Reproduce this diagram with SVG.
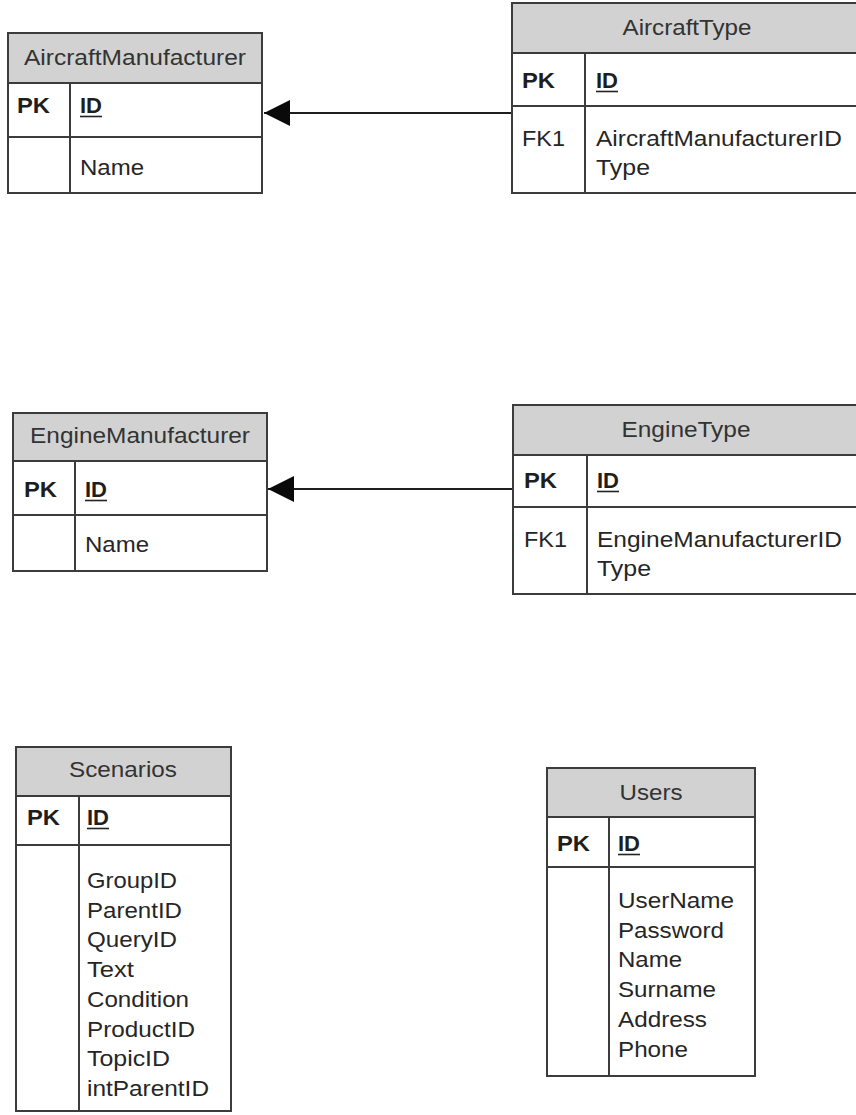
<svg xmlns="http://www.w3.org/2000/svg" width="856" height="1115" viewBox="0 0 856 1115">
<style>
  .bg{fill:#ffffff}
  .box{fill:#ffffff;stroke:#3c3c3c;stroke-width:2}
  .hdr{fill:#d2d2d2;stroke:#3c3c3c;stroke-width:2}
  .ln{stroke:#3c3c3c;stroke-width:2;fill:none}
  .ul{stroke:#222222;stroke-width:1.6;fill:none}
  text{font-family:"Liberation Sans",Arial,sans-serif;font-size:22px;fill:#262626}
  .h{text-anchor:middle;fill:#333333}
  .b{font-weight:bold;fill:#1e1e1e}
  .conn{stroke:#1e1e1e;stroke-width:2.2;fill:none}
</style>
<defs>
  <marker id="arrow" markerUnits="userSpaceOnUse" markerWidth="26" markerHeight="26" viewBox="0 0 24 24" refX="24" refY="12" orient="auto">
    <path d="M0,0 L24,12 L0,24 z" fill="#0a0a0a"/>
  </marker>
</defs>
<rect class="bg" x="0" y="0" width="856" height="1115"/>

<g id="connectors">
  <line class="conn" x1="512" y1="113" x2="264" y2="113" marker-end="url(#arrow)"/>
  <line class="conn" x1="513" y1="489" x2="268" y2="489" marker-end="url(#arrow)"/>
</g>

<g id="AircraftManufacturer">
  <rect class="box" x="8" y="33" width="254" height="160"/>
  <rect class="hdr" x="8" y="33" width="254" height="50"/>
  <line class="ln" x1="8" y1="137" x2="262" y2="137"/>
  <line class="ln" x1="70" y1="83" x2="70" y2="193"/>
  <text class="h" x="135" y="65" textLength="222" lengthAdjust="spacingAndGlyphs">AircraftManufacturer</text>
  <text class="b" x="17" y="113" textLength="33" lengthAdjust="spacingAndGlyphs">PK</text>
  <text class="b" x="80" y="113" textLength="22" lengthAdjust="spacingAndGlyphs">ID</text>
  <line class="ul" x1="80" y1="116.5" x2="102" y2="116.5"/>
  <text x="80" y="175" textLength="64" lengthAdjust="spacingAndGlyphs">Name</text>
</g>

<g id="AircraftType">
  <rect class="box" x="512" y="3" width="354" height="190"/>
  <rect class="hdr" x="512" y="3" width="354" height="50"/>
  <line class="ln" x1="512" y1="106" x2="866" y2="106"/>
  <line class="ln" x1="585" y1="53" x2="585" y2="193"/>
  <text class="h" x="687" y="35" textLength="129" lengthAdjust="spacingAndGlyphs">AircraftType</text>
  <text class="b" x="522" y="88" textLength="33" lengthAdjust="spacingAndGlyphs">PK</text>
  <text class="b" x="596" y="88" textLength="22" lengthAdjust="spacingAndGlyphs">ID</text>
  <line class="ul" x1="596" y1="91.5" x2="618" y2="91.5"/>
  <text x="522" y="146" textLength="43" lengthAdjust="spacingAndGlyphs">FK1</text>
  <text x="596" y="146" textLength="246" lengthAdjust="spacingAndGlyphs">AircraftManufacturerID</text>
  <text x="596" y="175" textLength="54" lengthAdjust="spacingAndGlyphs">Type</text>
</g>

<g id="EngineManufacturer">
  <rect class="box" x="13" y="413" width="254" height="158"/>
  <rect class="hdr" x="13" y="413" width="254" height="48"/>
  <line class="ln" x1="13" y1="515" x2="267" y2="515"/>
  <line class="ln" x1="75" y1="461" x2="75" y2="571"/>
  <text class="h" x="140" y="443" textLength="220" lengthAdjust="spacingAndGlyphs">EngineManufacturer</text>
  <text class="b" x="24" y="497" textLength="33" lengthAdjust="spacingAndGlyphs">PK</text>
  <text class="b" x="85" y="497" textLength="22" lengthAdjust="spacingAndGlyphs">ID</text>
  <line class="ul" x1="85" y1="500.5" x2="107" y2="500.5"/>
  <text x="85" y="552" textLength="64" lengthAdjust="spacingAndGlyphs">Name</text>
</g>

<g id="EngineType">
  <rect class="box" x="513" y="405" width="353" height="189"/>
  <rect class="hdr" x="513" y="405" width="353" height="50"/>
  <line class="ln" x1="513" y1="507" x2="866" y2="507"/>
  <line class="ln" x1="587" y1="455" x2="587" y2="594"/>
  <text class="h" x="686" y="437" textLength="129" lengthAdjust="spacingAndGlyphs">EngineType</text>
  <text class="b" x="524" y="488" textLength="33" lengthAdjust="spacingAndGlyphs">PK</text>
  <text class="b" x="597" y="488" textLength="22" lengthAdjust="spacingAndGlyphs">ID</text>
  <line class="ul" x1="597" y1="491.5" x2="619" y2="491.5"/>
  <text x="524" y="547" textLength="43" lengthAdjust="spacingAndGlyphs">FK1</text>
  <text x="597" y="547" textLength="245" lengthAdjust="spacingAndGlyphs">EngineManufacturerID</text>
  <text x="597" y="576" textLength="54" lengthAdjust="spacingAndGlyphs">Type</text>
</g>

<g id="Scenarios">
  <rect class="box" x="16" y="747" width="215" height="364"/>
  <rect class="hdr" x="16" y="747" width="215" height="49"/>
  <line class="ln" x1="16" y1="845" x2="231" y2="845"/>
  <line class="ln" x1="79" y1="796" x2="79" y2="1111"/>
  <text class="h" x="123" y="777" textLength="108" lengthAdjust="spacingAndGlyphs">Scenarios</text>
  <text class="b" x="27" y="825" textLength="33" lengthAdjust="spacingAndGlyphs">PK</text>
  <text class="b" x="87" y="825" textLength="22" lengthAdjust="spacingAndGlyphs">ID</text>
  <line class="ul" x1="87" y1="828.5" x2="109" y2="828.5"/>
  <text x="87" y="888" textLength="90" lengthAdjust="spacingAndGlyphs">GroupID</text>
  <text x="87" y="917.7" textLength="95" lengthAdjust="spacingAndGlyphs">ParentID</text>
  <text x="87" y="947.4" textLength="90" lengthAdjust="spacingAndGlyphs">QueryID</text>
  <text x="87" y="977.1" textLength="47" lengthAdjust="spacingAndGlyphs">Text</text>
  <text x="87" y="1006.8" textLength="102" lengthAdjust="spacingAndGlyphs">Condition</text>
  <text x="87" y="1036.5" textLength="108" lengthAdjust="spacingAndGlyphs">ProductID</text>
  <text x="87" y="1066.2" textLength="83" lengthAdjust="spacingAndGlyphs">TopicID</text>
  <text x="87" y="1095.9" textLength="122" lengthAdjust="spacingAndGlyphs">intParentID</text>
</g>

<g id="Users">
  <rect class="box" x="547" y="768" width="208" height="308"/>
  <rect class="hdr" x="547" y="768" width="208" height="49"/>
  <line class="ln" x1="547" y1="867" x2="755" y2="867"/>
  <line class="ln" x1="609" y1="817" x2="609" y2="1076"/>
  <text class="h" x="651" y="800" textLength="63" lengthAdjust="spacingAndGlyphs">Users</text>
  <text class="b" x="557" y="851" textLength="33" lengthAdjust="spacingAndGlyphs">PK</text>
  <text class="b" x="618" y="851" textLength="22" lengthAdjust="spacingAndGlyphs">ID</text>
  <line class="ul" x1="618" y1="854.5" x2="640" y2="854.5"/>
  <text x="618" y="908" textLength="116" lengthAdjust="spacingAndGlyphs">UserName</text>
  <text x="618" y="937.7" textLength="106" lengthAdjust="spacingAndGlyphs">Password</text>
  <text x="618" y="967.4" textLength="64" lengthAdjust="spacingAndGlyphs">Name</text>
  <text x="618" y="997.1" textLength="98" lengthAdjust="spacingAndGlyphs">Surname</text>
  <text x="618" y="1026.8" textLength="89" lengthAdjust="spacingAndGlyphs">Address</text>
  <text x="618" y="1056.5" textLength="70" lengthAdjust="spacingAndGlyphs">Phone</text>
</g>
</svg>
